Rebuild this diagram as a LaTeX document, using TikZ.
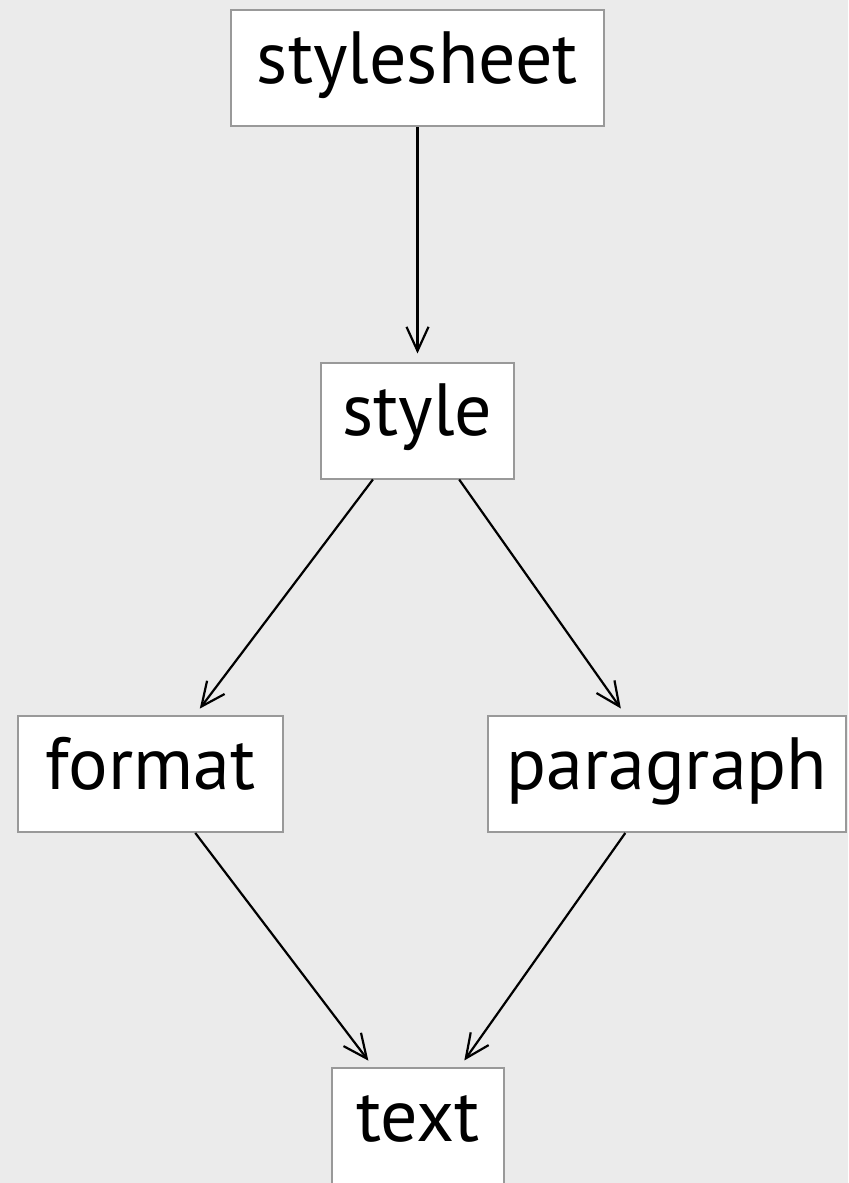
\documentclass[tikz,border=0pt]{standalone}
\usepackage{fontspec}
\setmainfont{PT Sans}
\usetikzlibrary{arrows.meta}
\definecolor{bgcolor}{HTML}{EBEBEB}
\definecolor{boxline}{HTML}{999999}

\begin{document}
\begin{tikzpicture}[x=0.5pt, y=-0.5pt,
    box/.style={draw=boxline, line width=1pt, fill=white, font=\fontsize{37}{40}\selectfont,
      inner xsep=5pt, inner ysep=2.5pt, text height=34pt, text depth=19pt},
    link/.style={-{Straight Barb[length=12pt, width=11pt]}, line width=1.1pt, shorten >=4pt}]
  \fill[bgcolor] (0,0) rectangle (848,1183);
  \useasboundingbox (0,0) rectangle (848,1183);

  \node[box, minimum width=186.5pt] (stylesheet) at (417.5,68)  {stylesheet};
  \node[box, minimum width=96.5pt]  (style)      at (417.5,420.5) {style};
  \node[box, minimum width=132.5pt] (format)     at (150.5,774) {format};
  \node[box, minimum width=179pt]   (paragraph)  at (667,774)   {paragraph};
  \node[box, minimum width=86pt]    (text)       at (418,1126)  {text};

  \draw[link] (stylesheet) -- (style);
  \draw[link] (style) -- (format);
  \draw[link] (style) -- (paragraph);
  \draw[link] (format) -- (text);
  \draw[link] (paragraph) -- (text);
\end{tikzpicture}
\end{document}
